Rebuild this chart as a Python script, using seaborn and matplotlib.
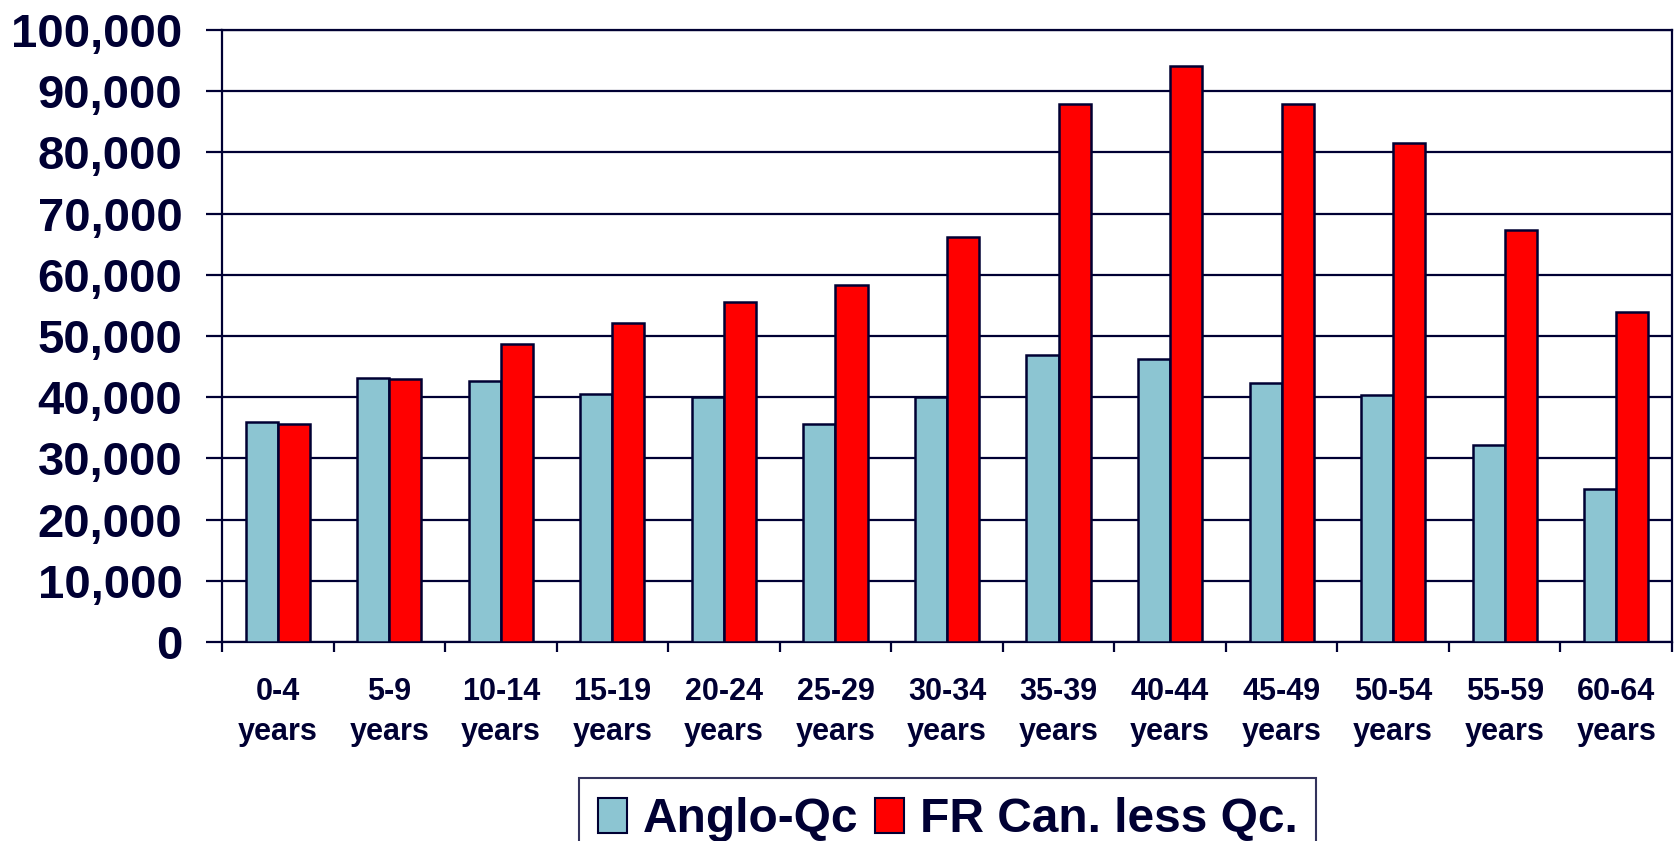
import numpy as np
import pandas as pd
import matplotlib
matplotlib.use('Agg')
import matplotlib.pyplot as plt
from matplotlib.patches import Patch
from matplotlib.ticker import FuncFormatter, FixedLocator
import seaborn as sns

# Values
age_groups = ['0-4\nyears', '5-9\nyears', '10-14\nyears', '15-19\nyears', '20-24\nyears',
              '25-29\nyears', '30-34\nyears', '35-39\nyears', '40-44\nyears', '45-49\nyears',
              '50-54\nyears', '55-59\nyears', '60-64\nyears']
anglo_qc = [36000, 43200, 42600, 40600, 40100, 35700, 40100, 46900, 46200, 42300, 40400, 32200, 25000]
fr_can_less_qc = [35600, 43000, 48700, 52100, 55600, 58300, 66100, 87900, 94100, 87900, 81600, 67300, 54000]
series_names = ['Anglo-Qc', 'FR Can. less Qc.']
series_colors = ['#8CC5D2', '#FF0000']

navy = '#000033'

df = pd.DataFrame({
    'age': age_groups * 2,
    'population': anglo_qc + fr_can_less_qc,
    'series': [series_names[0]] * len(age_groups) + [series_names[1]] * len(age_groups),
})

sns.set_style('white')
plt.rcParams['font.family'] = ['Liberation Sans', 'DejaVu Sans']
plt.rcParams['font.weight'] = 'bold'

fig = plt.figure(figsize=(16.79, 8.41), dpi=100)
ax = fig.add_axes([222 / 1679, 1 - 642 / 841, (1672 - 222) / 1679, (642 - 30) / 841])

sns.barplot(data=df, x='age', y='population', hue='series', palette=series_colors,
            width=0.575, gap=0, edgecolor=navy, linewidth=1.8, saturation=1,
            legend=False, ax=ax, zorder=3)

ax.set_ylim(0, 100000)
ax.set_xlim(-0.5, len(age_groups) - 0.5)
ax.set_yticks(np.arange(0, 100001, 10000))
ax.yaxis.set_major_formatter(FuncFormatter(lambda v, p: f'{v:,.0f}'))
ax.yaxis.grid(True, color=navy, linewidth=1.6, zorder=0)
ax.set_axisbelow(True)

ax.set_xlabel('')
ax.set_ylabel('')

for side in ['left', 'right', 'bottom', 'top']:
    ax.spines[side].set_visible(True)
    ax.spines[side].set_color(navy)
    ax.spines[side].set_linewidth(1.6)

ax.tick_params(axis='y', which='major', left=True, length=11.5, width=1.6, color=navy,
               labelsize=34, labelcolor=navy, pad=17)
ax.tick_params(axis='x', which='major', bottom=True, length=0, labelsize=22,
               labelcolor=navy, pad=25)
ax.xaxis.set_minor_locator(FixedLocator(np.arange(-0.5, len(age_groups), 1)))
ax.tick_params(axis='x', which='minor', bottom=True, length=7.5, width=1.6, color=navy)
for lab in ax.get_xticklabels():
    lab.set_fontweight('bold')
    lab.set_linespacing(1.45)
for lab in ax.get_yticklabels():
    lab.set_fontweight('bold')

handles = [Patch(facecolor=c, edgecolor=navy, linewidth=1.5) for c in series_colors]
leg = fig.legend(handles, series_names, loc='upper left',
                 bbox_to_anchor=(579 / 1679, 1 - 778 / 841), ncol=2,
                 prop={'size': 34.5, 'weight': 'bold'}, frameon=True, fancybox=False,
                 edgecolor=navy, handlelength=0.6, handleheight=0.75,
                 handletextpad=0.33, columnspacing=0.35, borderpad=0.4,
                 borderaxespad=0)
leg.get_frame().set_linewidth(1.5)
for t in leg.get_texts():
    t.set_color(navy)

fig.savefig('out.png', dpi=100)
